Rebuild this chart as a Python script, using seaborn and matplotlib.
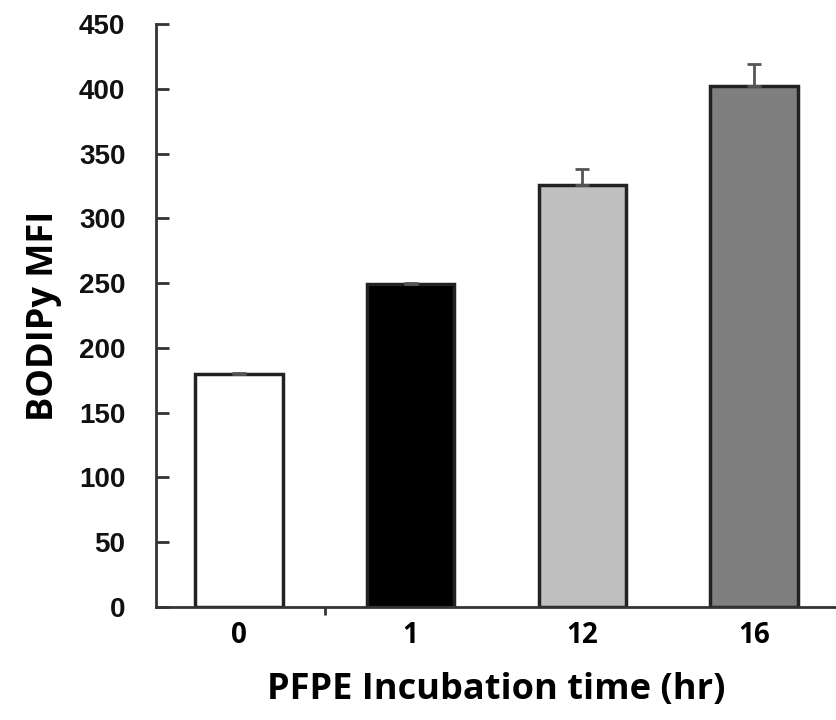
import matplotlib
matplotlib.use("Agg")
import matplotlib.pyplot as plt
import seaborn as sns
import numpy as np
import pandas as pd

categories = ["0", "1", "12", "16"]
values = [180, 249, 326, 402]
errors = [1, 1, 12, 17]
colors = ["#ffffff", "#000000", "#bfbfbf", "#7f7f7f"]
yticks = [0, 50, 100, 150, 200, 250, 300, 350, 400, 450]

sns.set_theme(style="white")
plt.rcParams['font.family'] = ['Liberation Sans', 'DejaVu Sans']

df = pd.DataFrame({"time": categories, "mfi": values})

fig = plt.figure(figsize=(8.37, 7.2), dpi=100)
ax = fig.add_axes([0.1864, 0.1569, 0.8136, 0.8098])

sns.barplot(data=df, x="time", y="mfi", hue="time", palette=colors,
            order=categories, hue_order=categories, legend=False,
            width=0.51, edgecolor="#222222", linewidth=2.5, errorbar=None, ax=ax)

xpos = np.arange(len(categories))
ax.errorbar(xpos, values, yerr=[np.zeros(len(errors)), errors], fmt="none",
            ecolor="#555555", elinewidth=2, capsize=5, capthick=2, zorder=1)

ax.set_xlim(-0.485, 3.485)
ax.set_ylim(0, 450)
ax.set_yticks(yticks)
ax.set_yticklabels([str(t) for t in yticks], fontsize=20, fontweight="bold",
                   family=['Liberation Sans', 'DejaVu Sans'], color="#111111")
ax.tick_params(axis="y", direction="in", length=9, width=2, color="#333333",
               pad=22, left=True)
ax.tick_params(axis="x", which="major", length=0, pad=10)
ax.set_xticks(xpos)
ax.set_xticklabels(categories, fontsize=20, fontweight="bold",
                   family=['Open Sans', 'DejaVu Sans'], color="black")
ax.set_xticks([0.5], minor=True)
ax.tick_params(axis="x", which="minor", direction="out", length=6, width=2,
               color="#333333", bottom=True)

for side in ["top", "right"]:
    ax.spines[side].set_visible(False)
for side in ["left", "bottom"]:
    ax.spines[side].set_color("#333333")
    ax.spines[side].set_linewidth(2)

ax.set_ylabel("BODIPy MFI", fontsize=26, fontweight="bold", color="black",
              family=['Open Sans', 'DejaVu Sans'], labelpad=12)
ax.set_xlabel("PFPE Incubation time (hr)", fontsize=26, fontweight="bold",
              color="black", family=['Open Sans', 'DejaVu Sans'], labelpad=16)

fig.savefig("out.png", dpi=100)
